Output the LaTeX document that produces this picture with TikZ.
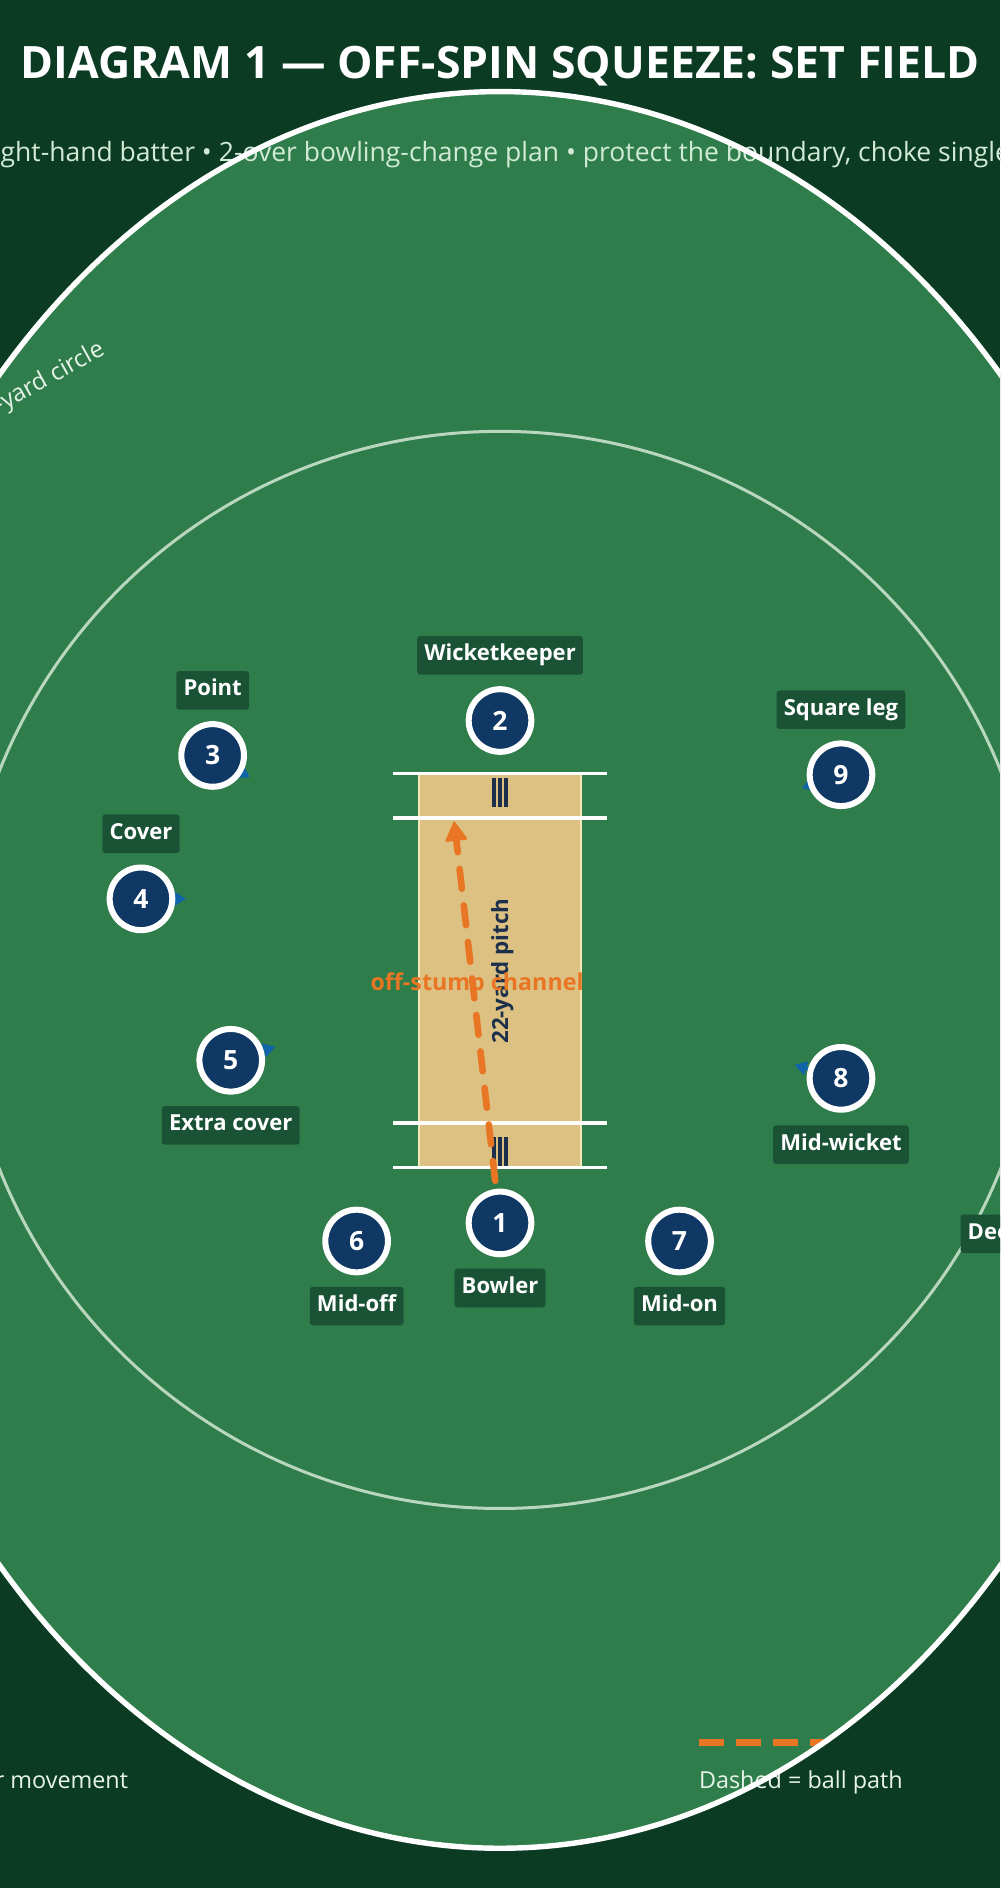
\documentclass[tikz,border=0pt]{standalone}
\usepackage{fontspec}
\setmainfont{Open Sans}
\usetikzlibrary{arrows.meta}
\definecolor{bgc}{HTML}{0C3B24}
\definecolor{fieldc}{HTML}{2E7D4A}
\definecolor{ringc}{HTML}{B9D7BE}
\definecolor{lblbg}{HTML}{1A5236}
\definecolor{navyc}{HTML}{103864}
\definecolor{pitchc}{HTML}{DCC182}
\definecolor{pitchedge}{HTML}{F5E6B9}
\definecolor{stumpc}{HTML}{1C304B}
\definecolor{ballc}{HTML}{E87624}
\definecolor{movec}{HTML}{0F64AA}
\definecolor{subc}{HTML}{D2EBD7}
\definecolor{legc}{HTML}{E8F4EA}
\tikzset{
  fielder/.style={circle, fill=navyc, draw=white, line width=5pt, minimum size=52pt, inner sep=0pt, text=white, font=\fontsize{22}{24}\selectfont\bfseries},
  lbl/.style={fill=lblbg, rounded corners=2.5pt, text=white, font=\fontsize{18.3}{20}\selectfont\bfseries, inner xsep=6pt, inner ysep=7.5pt, text height=13pt, text depth=4pt},
  movearrow/.style={draw=movec, line width=3pt, -{Triangle[length=10pt,width=12pt,round,line width=1pt]}},
  crease/.style={draw=white, line width=3pt},
  ballpath/.style={draw=ballc, line width=5.5pt, line cap=round, dash pattern=on 16.5pt off 14pt, -{Triangle[length=17pt,width=19pt,round,line width=2pt]}},
  titlefont/.style={text=white, font=\fontsize{37}{44}\selectfont\bfseries, inner sep=0pt},
  subtitle/.style={text=subc, font=\fontsize{22}{26}\selectfont, inner sep=0pt},
  legend/.style={text=legc, font=\fontsize{19.4}{22}\selectfont, inner sep=0pt},
  ringlabel/.style={text=legc, font=\fontsize{20}{22}\selectfont, inner sep=0pt},
}
\begin{document}
\begin{tikzpicture}[x=1pt,y=-1pt]
\useasboundingbox (0,0) rectangle (830,1567);
\clip (0,0) rectangle (830,1567);
\fill[bgc] (0,0) rectangle (830,1567);
% field
\fill[fieldc] (415,805) ellipse [x radius=565, y radius=729];
\draw[ringc, line width=2.5pt] (415,805) circle [radius=447];
% texts under boundary
\node[subtitle, anchor=base] (sub) at (415,134) {Right-hand batter • 2-over bowling-change plan • protect the boundary, choke singles};
\node[ringlabel, anchor=base east, rotate=29] (ringtxt) at (88,294) {30-yard circle};
\coordinate (lgA) at (580,1446);
\coordinate (lgB) at (684,1446);
\draw[ballc, line width=5.5pt, dash pattern=on 20.75pt off 10pt] (lgA) -- (lgB);
\node[legend, anchor=base west] (lgball) at (580,1484) {Dashed = ball path};
\node[legend, anchor=base east] (lgmove) at (106.5,1484) {Arrow = fielder movement};
% boundary
\draw[white, line width=4.5pt] (415,805) ellipse [x radius=565, y radius=729];
% title
\node[titlefont, anchor=base] (title) at (415,65) {DIAGRAM 1 — OFF-SPIN SQUEEZE: SET FIELD};
% pitch
\node[draw=pitchedge, fill=pitchc, line width=2pt, minimum width=134pt, minimum height=327pt, inner sep=0pt] (pitch) at (415,805.5) {};
\draw[crease] (326,642) -- (504,642);
\draw[crease] (326,679) -- (504,679);
\draw[crease] (326,932) -- (504,932);
\draw[crease] (326,969) -- (504,969);
\foreach \sx in {408.2,413.2,418.2}{
  \fill[stumpc] (\sx,646) rectangle ++(3.6,24);
  \fill[stumpc] (\sx,944) rectangle ++(3.6,24);
}
% ball path
\coordinate (ballstart) at (411,980);
\coordinate (balltip) at (377,682);
\draw[ballpath] (ballstart) -- (balltip);
\node[text=stumpc, font=\fontsize{18.5}{22}\selectfont\bfseries, rotate=90, inner sep=0pt] (pitchlbl) at (417,806) {22-yard pitch};
\node[text=ballc, font=\fontsize{19.3}{22}\selectfont\bfseries, inner sep=0pt] (chan) at (396,817) {off-stump channel};
% fielder positions
\coordinate (p1) at (415,1015);
\coordinate (p2) at (415,598);
\coordinate (p3) at (176.5,627);
\coordinate (p4) at (117,746);
\coordinate (p5) at (191.5,880);
\coordinate (p6) at (296,1030);
\coordinate (p7) at (564,1030);
\coordinate (p8) at (698,895);
\coordinate (p9) at (698,643);
% movement arrows
\coordinate (m3) at (207,645);
\coordinate (m4) at (154,746);
\coordinate (m5) at (228,869);
\coordinate (m8) at (660,884);
\coordinate (m9) at (666,654);
\draw[movearrow] (p3) -- (m3);
\draw[movearrow] (p4) -- (m4);
\draw[movearrow] (p5) -- (m5);
\draw[movearrow] (p8) -- (m8);
\draw[movearrow] (p9) -- (m9);
% fielders
\node[fielder] (f1) at (p1) {1};
\node[fielder] (f2) at (p2) {2};
\node[fielder] (f3) at (p3) {3};
\node[fielder] (f4) at (p4) {4};
\node[fielder] (f5) at (p5) {5};
\node[fielder] (f6) at (p6) {6};
\node[fielder] (f7) at (p7) {7};
\node[fielder] (f8) at (p8) {8};
\node[fielder] (f9) at (p9) {9};
% labels
\node[lbl] (l1) at (415,1069) {Bowler};
\node[lbl] (l2) at (415,544) {Wicketkeeper};
\node[lbl] (l3) at (176.5,573) {Point};
\node[lbl] (l4) at (117,692) {Cover};
\node[lbl] (l5) at (191.5,934) {Extra cover};
\node[lbl] (l6) at (296,1084) {Mid-off};
\node[lbl] (l7) at (564,1084) {Mid-on};
\node[lbl] (l8) at (698,950) {Mid-wicket};
\node[lbl] (l9) at (698,589) {Square leg};
\node[lbl, anchor=west] (l10) at (797,1024) {Deep mid-wicket};
\end{tikzpicture}
\end{document}
